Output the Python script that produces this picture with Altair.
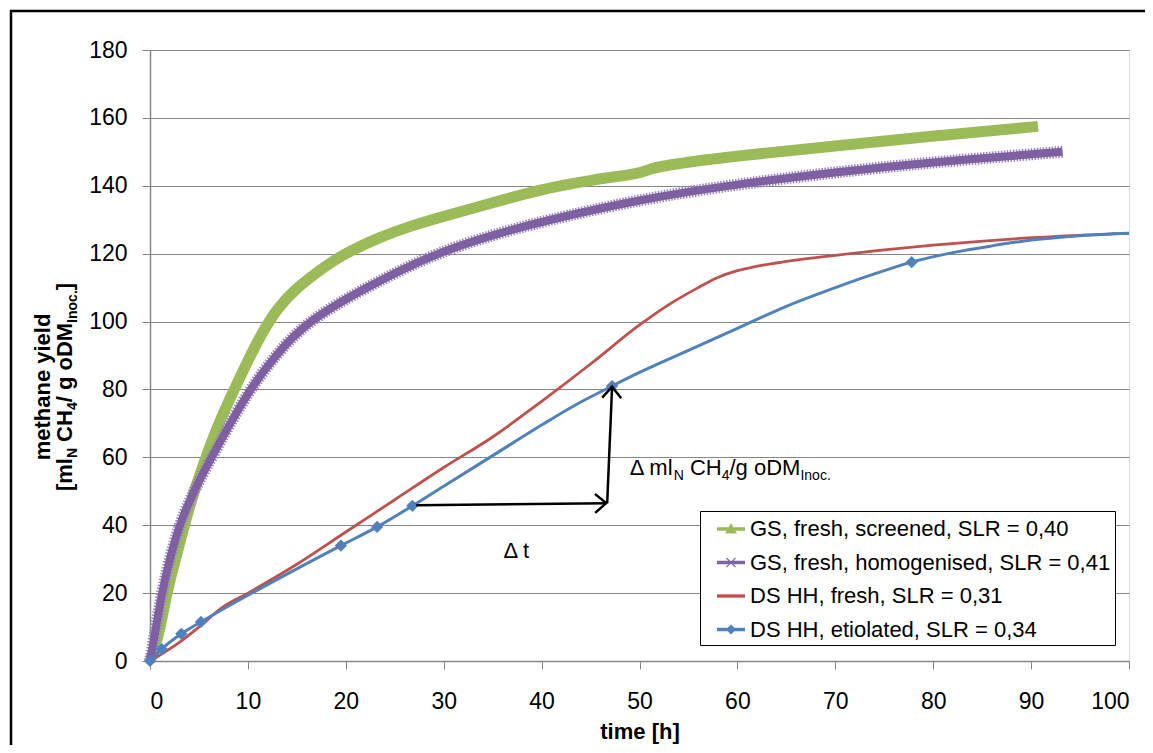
import altair as alt
import pandas as pd

# ---------------- data ----------------
NB = "\u00a0\u00a0\u00a0\u00a0"
S1 = "GS, fresh, screened, SLR = 0,40"
S2 = "GS, fresh, homogenised, SLR = 0,41"
S3 = "DS HH, fresh, SLR = 0,31"
S4 = "DS HH, etiolated, SLR = 0,34"
series_names = [S1, S2, S3, S4]
series_colors = ["#9BBB59", "#8064A2", "#C0504D", "#4F81BD"]

gs_scr_t = [0, 0.5, 1.0, 1.7, 2.6, 3.5, 4.5, 5.7, 7.0, 8.6, 10.0, 11.4, 13.0, 15.0, 17.3,
            19.5, 23.5, 27, 30, 35, 40, 45, 50.5, 51.0, 55, 60, 70, 80, 90.7]
gs_scr_y = [0, 4, 9, 20, 30, 40, 50, 60, 70, 80, 88.5, 96.5, 104, 110, 115,
            119.5, 125, 128.5, 131, 135, 139, 141.7, 143.8, 145.2, 147, 148.8, 151.7, 154.7, 157.5]

gs_hom_t = [0, 0.5, 1.2, 2.0, 3.0, 4.0, 5.0, 6.3, 8.0, 10.2, 12.8, 16.0, 22.0, 29.0,
            35, 40, 50, 60, 70, 80, 93.2]
gs_hom_y = [0, 8, 20, 30, 40, 47, 53, 60, 69, 80, 90, 100, 110, 120,
            125.5, 129.5, 136, 140.5, 144, 147, 150]

ds_fr_t = [0, 3, 5, 7.5, 10, 15, 20, 25, 30, 35, 40, 45, 50, 53, 56, 58, 60, 62, 65, 70, 80, 90, 100]
ds_fr_y = [0, 5.5, 10, 16, 20, 28.5, 38, 47.5, 57, 66, 76.5, 87.5, 99, 105, 110, 113, 115,
           116.3, 117.7, 119.5, 122.5, 124.7, 126]

ds_et_t = [0, 1.2, 3.2, 5.2, 12, 19.5, 23.2, 26.8, 30, 35, 40, 43.5, 47.2, 50, 55, 60, 65,
           70, 75, 77.8, 82, 86, 90, 95, 100]
ds_et_y = [0, 3.5, 8, 11.5, 22.5, 34, 39.5, 45.7, 51.5, 60.5, 69.5, 75.5, 81, 85, 91.5, 98,
           104.5, 110, 115, 117.5, 120.3, 122.3, 124, 125.3, 126]
ds_et_mark_t = [0, 1.2, 3.2, 5.2, 19.5, 23.2, 26.8, 47.2, 77.8]
ds_et_mark_y = [0, 3.5, 8, 11.5, 34, 39.5, 45.7, 81, 117.5]

# annotation arrows (data coordinates)
arrow_h_t = [27.2, 46.6]
arrow_h_y = [45.9, 46.5]
arrow_v_t = [46.7, 47.2]
arrow_v_y = [46.5, 80.8]

x_ticks = list(range(0, 101, 10))
y_ticks = list(range(0, 181, 20))

FONT = "Liberation Sans"
GRAY = "#868686"

# Arial / Liberation Sans advance widths (per 1000 em)
W_REG = {' ': 278, 'Δ': 668, 'm': 833, 'l': 222, 'N': 722, 'C': 722, 'H': 722, '4': 556,
         '/': 278, 'g': 556, 'o': 556, 'D': 722, 'M': 833, 'I': 278, 'n': 556, 'c': 500,
         '.': 278, 't': 278}
W_BOLD = {'[': 333, ']': 333, 'm': 889, 'l': 278, 'N': 722, ' ': 278, 'C': 722, 'H': 722,
          '4': 556, '/': 278, 'g': 611, 'o': 611, 'D': 722, 'M': 833, 'I': 278, 'n': 611,
          'c': 556, '.': 278}


def text_w(s, size, bold=False):
    table = W_BOLD if bold else W_REG
    return sum(table.get(ch, 556) for ch in s) * size / 1000.0


def segments(parts, size, sub_size, bold):
    """parts: list of (text, is_sub). Leading spaces are turned into offsets (SVG strips them)."""
    rows, off = [], 0.0
    for txt, sub in parts:
        fs = sub_size if sub else size
        while txt.startswith(" "):
            off += text_w(" ", fs, bold)
            txt = txt[1:]
        rows.append({"txt": txt, "off": off, "fs": fs, "sub": sub})
        off += text_w(txt, fs, bold)
    return rows, off


def frame(t, y):
    return pd.DataFrame({"t": t, "y": y})


x_enc = alt.X("t:Q", scale=alt.Scale(domain=[0, 100], nice=False),
              axis=alt.Axis(title="time [h]", values=x_ticks, grid=False, tickSize=8,
                            labelPadding=21, labelFontSize=23, labelFont=FONT,
                            labelColor="black", titleFont=FONT, titleFontSize=22,
                            titleFontWeight="bold", titleColor="black", titlePadding=8,
                            domainColor=GRAY, tickColor=GRAY, domainWidth=1.5))
y_enc = alt.Y("y:Q", scale=alt.Scale(domain=[0, 180], nice=False),
              axis=alt.Axis(title=None, values=y_ticks, grid=True, gridColor=GRAY,
                            gridWidth=1.2, tickSize=8, labelPadding=15, labelFontSize=23,
                            labelFont=FONT, labelColor="black", domainColor=GRAY,
                            tickColor=GRAY, domainWidth=1.5))

green = alt.Chart(frame(gs_scr_t, gs_scr_y)).mark_line(
    color=series_colors[0], strokeWidth=11, interpolate="basis").encode(x=x_enc, y=y_enc)
purple_out = alt.Chart(frame(gs_hom_t, gs_hom_y)).mark_line(
    color="#9C86C0", strokeWidth=12, interpolate="basis", strokeDash=[1.5, 1.5]).encode(x=x_enc, y=y_enc)
purple_in = alt.Chart(frame(gs_hom_t, gs_hom_y)).mark_line(
    color="#7D5FA2", strokeWidth=8, interpolate="basis").encode(x=x_enc, y=y_enc)
red = alt.Chart(frame(ds_fr_t, ds_fr_y)).mark_line(
    color=series_colors[2], strokeWidth=2.8, interpolate="monotone").encode(x=x_enc, y=y_enc)
blue = alt.Chart(frame(ds_et_t, ds_et_y)).mark_line(
    color=series_colors[3], strokeWidth=3, interpolate="monotone").encode(x=x_enc, y=y_enc)
blue_pts = alt.Chart(frame(ds_et_mark_t, ds_et_mark_y)).mark_point(
    shape="diamond", filled=True, size=150, opacity=1, color=series_colors[3]).encode(x=x_enc, y=y_enc)

# arrows
arr_h = alt.Chart(frame(arrow_h_t, arrow_h_y)).mark_line(color="black", strokeWidth=2.5).encode(x=x_enc, y=y_enc)
arr_v = alt.Chart(frame(arrow_v_t, arrow_v_y)).mark_line(color="black", strokeWidth=2.5).encode(x=x_enc, y=y_enc)
CHEVRON = "M-1,-0.85 L0,0 L-1,0.85"
head_h = alt.Chart(frame([arrow_h_t[-1]], [arrow_h_y[-1]])).mark_point(
    shape=CHEVRON, filled=False, size=500, strokeWidth=2.5, color="black", opacity=1,
    angle=359).encode(x=x_enc, y=y_enc)
head_v = alt.Chart(frame([arrow_v_t[-1]], [arrow_v_y[-1]])).mark_point(
    shape=CHEVRON, filled=False, size=500, strokeWidth=2.5, color="black", opacity=1,
    angle=272).encode(x=x_enc, y=y_enc)

# annotation texts (data coordinates, subscripts via separate segments)
ann_rows, _ = segments([("Δ ml", False), ("N", True), (" CH", False), ("4", True),
                        ("/g oDM", False), ("Inoc.", True)], 22, 14, False)
ann_layers = []
for r in ann_rows:
    ann_layers.append(alt.Chart(pd.DataFrame({"t": [49.0], "y": [54.8], "txt": [r["txt"]]})).mark_text(
        font=FONT, fontSize=r["fs"], align="left", baseline="alphabetic",
        dx=r["off"], dy=5 if r["sub"] else 0, color="black").encode(
        x=x_enc, y=y_enc, text="txt:N"))

dt_text = alt.Chart(pd.DataFrame({"t": [36.1], "y": [30.3], "txt": ["Δ t"]})).mark_text(
    font=FONT, fontSize=22, align="left", baseline="alphabetic", color="black").encode(
    x=x_enc, y=y_enc, text="txt:N")

# y-axis title (two lines, rotated, with subscripts)
YC = 337  # vertical centre relative to plot top
yt1 = alt.Chart(pd.DataFrame({"txt": ["methane yield"]})).mark_text(
    font=FONT, fontSize=22, fontWeight="bold", angle=270, align="center",
    baseline="alphabetic", color="black").encode(
    x=alt.value(-100), y=alt.value(YC), text="txt:N")
yt2_rows, yt2_w = segments([("[ml", False), ("N", True), (" CH", False), ("4", True),
                            ("/ g oDM", False), ("Inoc.", True), ("]", False)], 22, 14, True)
yt2_layers = []
for r in yt2_rows:
    yt2_layers.append(alt.Chart(pd.DataFrame({"txt": [r["txt"]]})).mark_text(
        font=FONT, fontSize=r["fs"], fontWeight="bold", angle=270, align="left",
        baseline="alphabetic", dx=r["off"], dy=5 if r["sub"] else 0, color="black").encode(
        x=alt.value(-78), y=alt.value(YC + yt2_w / 2), text="txt:N"))

# outer frame of the chart area
outer = alt.Chart(pd.DataFrame({"k": [0]})).mark_rect(
    fillOpacity=0, stroke="black", strokeWidth=2.5).encode(
    x=alt.value(-139), x2=alt.value(1200), y=alt.value(-39), y2=alt.value(900))

# legend (built from scale domain; legend-only layer draws nothing)
L = "M-1,-0.12 L1,-0.12 L1,0.12 L-1,0.12 Z"
TRI = " M0,-0.42 L0.42,0.32 L-0.42,0.32 Z"
XM = (" M-0.35,-0.29 L-0.29,-0.35 L0,-0.06 L0.29,-0.35 L0.35,-0.29 L0.06,0 L0.35,0.29"
      " L0.29,0.35 L0,0.06 L-0.29,0.35 L-0.35,0.29 L-0.06,0 Z")
DIA = " M0,-0.36 L0.36,0 L0,0.36 L-0.36,0 Z"
legend_shapes = [L + TRI, L + XM, L, L + DIA]

leg = alt.Legend(title=None, orient="none", legendX=550, legendY=461, fillColor="white",
                 strokeColor="black", padding=4, symbolOffset=13, labelFont=FONT,
                 labelFontSize=22, labelColor="black", symbolSize=784, rowPadding=8.5,
                 labelOffset=5, symbolOpacity=1, symbolStrokeWidth=0, labelLimit=500,
                 labelExpr="datum.label + '" + NB + "'")
legend_layer = alt.Chart(pd.DataFrame({"series": series_names})).transform_filter(
    "false").mark_point(filled=True, size=784, opacity=1).encode(
    x=x_enc, y=y_enc,
    color=alt.Color("series:N", scale=alt.Scale(domain=series_names, range=series_colors), legend=leg),
    shape=alt.Shape("series:N", scale=alt.Scale(domain=series_names, range=legend_shapes), legend=leg))

chart = alt.layer(
    outer, green, purple_out, purple_in, red, blue, blue_pts, arr_h, arr_v, head_h, head_v,
    *ann_layers, dt_text, yt1, *yt2_layers, legend_layer
).properties(
    width=979, height=611,
    autosize=alt.AutoSizeParams(type="none"),
    padding={"left": 142, "top": 42, "right": 16, "bottom": 84},
).configure_view(stroke=None).configure(background="white")

chart.save("out.html", embed_options={"renderer": "svg", "actions": False})
